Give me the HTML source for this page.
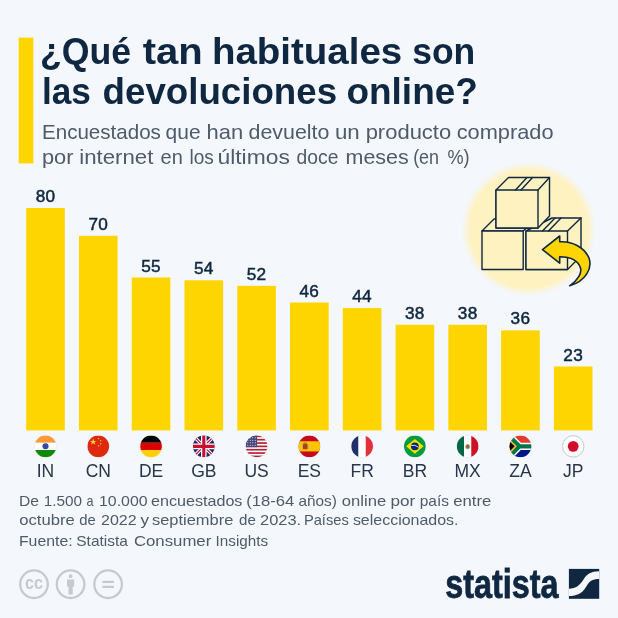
<!DOCTYPE html>
<html lang="es"><head><meta charset="utf-8"><title>¿Qué tan habituales son las devoluciones online?</title>
<style>
html,body{margin:0;padding:0;background:#f4f7fb;}
body{width:618px;height:618px;overflow:hidden;}
svg{display:block;}
text{font-family:"Liberation Sans",sans-serif;}
.t{font-weight:700;font-size:36px;fill:#0f2741;}
.s{font-size:21px;fill:#4d5b6b;}
.v{font-size:17.2px;fill:#0f2741;stroke:#0f2741;stroke-width:.5px;text-anchor:middle;letter-spacing:.3px;}
.c{font-size:17.5px;fill:#27364a;text-anchor:middle;}
.f{font-size:15px;fill:#4d5b6b;}
</style></head><body>
<svg width="618" height="618" viewBox="0 0 618 618">
<defs><radialGradient id="cg"><stop offset="0" stop-color="#fef2c0"/><stop offset=".87" stop-color="#fef2c0"/><stop offset="1" stop-color="#fef2c0" stop-opacity="0"/></radialGradient><clipPath id="fc"><circle cx="10.5" cy="10.5" r="10.5"/></clipPath></defs>
<rect width="618" height="618" fill="#f4f7fb"/>
<rect x="18.7" y="37.6" width="14.6" height="125.8" fill="#ffd500"/>
<text class="t" y="63.6"><tspan x="39.92" textLength="91.30" lengthAdjust="spacingAndGlyphs">¿Qué</tspan> <tspan x="142.80" textLength="60.01" lengthAdjust="spacingAndGlyphs">tan</tspan> <tspan x="211.96" textLength="190.33" lengthAdjust="spacingAndGlyphs">habituales</tspan> <tspan x="412.21" textLength="63.05" lengthAdjust="spacingAndGlyphs">son</tspan></text>
<text class="t" y="103.9"><tspan x="41.94" textLength="48.96" lengthAdjust="spacingAndGlyphs">las</tspan> <tspan x="102.58" textLength="234.46" lengthAdjust="spacingAndGlyphs">devoluciones</tspan> <tspan x="346.47" textLength="131.37" lengthAdjust="spacingAndGlyphs">online?</tspan></text>
<text class="s" y="138.9"><tspan x="41.97" textLength="118.92" lengthAdjust="spacingAndGlyphs">Encuestados</tspan> <tspan x="165.60" textLength="34.98" lengthAdjust="spacingAndGlyphs">que</tspan> <tspan x="206.55" textLength="36.66" lengthAdjust="spacingAndGlyphs">han</tspan> <tspan x="248.50" textLength="80.89" lengthAdjust="spacingAndGlyphs">devuelto</tspan> <tspan x="334.94" textLength="24.78" lengthAdjust="spacingAndGlyphs">un</tspan> <tspan x="365.65" textLength="85.56" lengthAdjust="spacingAndGlyphs">producto</tspan> <tspan x="456.70" textLength="96.90" lengthAdjust="spacingAndGlyphs">comprado</tspan></text>
<text class="s" y="164.3"><tspan x="41.96" textLength="31.53" lengthAdjust="spacingAndGlyphs">por</tspan> <tspan x="79.24" textLength="74.18" lengthAdjust="spacingAndGlyphs">internet</tspan> <tspan x="160.60" textLength="22.25" lengthAdjust="spacingAndGlyphs">en</tspan> <tspan x="189.49" textLength="24.36" lengthAdjust="spacingAndGlyphs">los</tspan> <tspan x="217.51" textLength="72.33" lengthAdjust="spacingAndGlyphs">últimos</tspan> <tspan x="296.60" textLength="41.82" lengthAdjust="spacingAndGlyphs">doce</tspan> <tspan x="345.58" textLength="63.13" lengthAdjust="spacingAndGlyphs">meses</tspan> <tspan x="413.15" textLength="25.93" lengthAdjust="spacingAndGlyphs">(en</tspan> <tspan x="447.50" textLength="22.16" lengthAdjust="spacingAndGlyphs">%)</tspan></text>
<g id="icon">
<circle cx="528.7" cy="229" r="67" fill="url(#cg)"/>
<g fill="#fef2c0" stroke="#0f2741" stroke-width="1.4" stroke-linejoin="round" stroke-linecap="round">
<path d="M482,231 L494,219 H536 L523.2,231 Z"/>
<rect x="482" y="231" width="41.2" height="38.5"/>
<path d="M526,231 L552,218 H581 V256 L567.5,269.5 H526 Z"/>
<rect x="526" y="231" width="41.5" height="38.500"/>
<path d="M567.5,231 L581,218"/>
<path d="M496,190 L508.500,177.500 H549.5 V216 L538,228 H496 Z"/>
<rect x="496" y="190" width="42" height="38"/>
<path d="M538,190 L549.5,177.500"/>
<path d="M515.5,190 L527,177.500 M521,190 L532.5,177.500"/>
<path d="M542.5,231 L555,218 M548.5,231 L561,218"/>
</g>
<path d="M542.5,249.6 L559.7,236 V241.8 C572,241 584,247 589,258 C592.5,268 586,281 569.7,285.8 C578,280 582,273 580.5,268 C578,260 570,256.7 559.7,256.7 V263.2 Z" fill="#ffd500" stroke="#0f2741" stroke-width="1.6" stroke-linejoin="round"/>
</g>
<rect x="26.20" y="208.00" width="38.6" height="222.40" fill="#ffd500"/><text class="v" x="45.50" y="202.10">80</text><g transform="translate(34.63,435.5) scale(1.035)"><circle cx="10.5" cy="10.5" r="11.200" fill="#eceff4"/><g clip-path="url(#fc)"><rect width="21" height="7" fill="#f93"/><rect y="7" width="21" height="7" fill="#fff"/><rect y="14" width="21" height="7" fill="#128807"/><circle cx="10.5" cy="10.5" r="2.900" fill="#2b3a9a"/><circle cx="10.5" cy="10.5" r="1.700" fill="none" stroke="#5d6bbd" stroke-width=".6"/></g></g><text class="c" x="45.50" y="476.5">IN</text><rect x="78.97" y="235.80" width="38.6" height="194.60" fill="#ffd500"/><text class="v" x="98.27" y="229.90">70</text><g transform="translate(87.40,435.5) scale(1.035)"><circle cx="10.5" cy="10.5" r="11.200" fill="#eceff4"/><g clip-path="url(#fc)"><rect width="21" height="21" fill="#de2910"/><polygon points="5.6,3 6.4,5.2 8.700,5.2 6.900,6.600 7.600,8.800 5.6,7.500 3.600,8.800 4.300,6.600 2.500,5.2 4.800,5.2" fill="#f8d030"/><circle cx="10.8" cy="3" r=".75" fill="#f2b830"/><circle cx="12.800" cy="5" r=".75" fill="#f2b830"/><circle cx="12.800" cy="7.900" r=".75" fill="#f2b830"/><circle cx="10.8" cy="9.900" r=".75" fill="#f2b830"/></g></g><text class="c" x="98.27" y="476.5">CN</text><rect x="131.74" y="277.50" width="38.6" height="152.90" fill="#ffd500"/><text class="v" x="151.04" y="271.60">55</text><g transform="translate(140.17,435.5) scale(1.035)"><circle cx="10.5" cy="10.5" r="11.200" fill="#eceff4"/><g clip-path="url(#fc)"><rect width="21" height="7" fill="#000"/><rect y="7" width="21" height="7" fill="#d00"/><rect y="14" width="21" height="7" fill="#ffce00"/></g></g><text class="c" x="151.04" y="476.5">DE</text><rect x="184.51" y="280.28" width="38.6" height="150.12" fill="#ffd500"/><text class="v" x="203.81" y="274.38">54</text><g transform="translate(192.94,435.5) scale(1.035)"><circle cx="10.5" cy="10.5" r="11.200" fill="#eceff4"/><g clip-path="url(#fc)"><rect width="21" height="21" fill="#1b2763"/><path d="M0,0L21,21M21,0L0,21" stroke="#fff" stroke-width="3.2"/><path d="M0,0L21,21M21,0L0,21" stroke="#c8102e" stroke-width="1.100"/><path d="M10.5,0V21M0,10.5H21" stroke="#fff" stroke-width="5.4"/><path d="M10.5,0V21M0,10.5H21" stroke="#c8102e" stroke-width="3"/></g></g><text class="c" x="203.81" y="476.5">GB</text><rect x="237.28" y="285.84" width="38.6" height="144.56" fill="#ffd500"/><text class="v" x="256.58" y="279.94">52</text><g transform="translate(245.71,435.5) scale(1.035)"><circle cx="10.5" cy="10.5" r="11.200" fill="#eceff4"/><g clip-path="url(#fc)"><rect width="21" height="21" fill="#fff"/><rect y="0.00" width="21" height="1.62" fill="#b22234"/><rect y="3.23" width="21" height="1.62" fill="#b22234"/><rect y="6.46" width="21" height="1.62" fill="#b22234"/><rect y="9.69" width="21" height="1.62" fill="#b22234"/><rect y="12.92" width="21" height="1.62" fill="#b22234"/><rect y="16.15" width="21" height="1.62" fill="#b22234"/><rect y="19.38" width="21" height="1.62" fill="#b22234"/><rect width="11" height="11.3" fill="#46467f"/><circle cx="2.0" cy="2.2" r=".5" fill="#fff"/><circle cx="4.4" cy="2.2" r=".5" fill="#fff"/><circle cx="6.8" cy="2.2" r=".5" fill="#fff"/><circle cx="9.2" cy="2.2" r=".5" fill="#fff"/><circle cx="2.0" cy="4.6" r=".5" fill="#fff"/><circle cx="4.4" cy="4.6" r=".5" fill="#fff"/><circle cx="6.8" cy="4.6" r=".5" fill="#fff"/><circle cx="9.2" cy="4.6" r=".5" fill="#fff"/><circle cx="2.0" cy="7.0" r=".5" fill="#fff"/><circle cx="4.4" cy="7.0" r=".5" fill="#fff"/><circle cx="6.8" cy="7.0" r=".5" fill="#fff"/><circle cx="9.2" cy="7.0" r=".5" fill="#fff"/><circle cx="2.0" cy="9.4" r=".5" fill="#fff"/><circle cx="4.4" cy="9.4" r=".5" fill="#fff"/><circle cx="6.8" cy="9.4" r=".5" fill="#fff"/><circle cx="9.2" cy="9.4" r=".5" fill="#fff"/></g></g><text class="c" x="256.58" y="476.5">US</text><rect x="290.05" y="302.52" width="38.6" height="127.88" fill="#ffd500"/><text class="v" x="309.35" y="296.62">46</text><g transform="translate(298.48,435.5) scale(1.035)"><circle cx="10.5" cy="10.5" r="11.200" fill="#eceff4"/><g clip-path="url(#fc)"><rect width="21" height="21" fill="#c60b1e"/><rect y="5.6" width="21" height="9.8" fill="#ffc400"/><rect x="4.300" y="8" width="4.600" height="5.4" rx="1.200" fill="#a5421c"/><rect x="4.900" y="6.700" width="3.400" height="1.600" fill="#b8860b"/><rect x="3.300" y="8.300" width=".9" height="4.800" fill="#b9b39a"/><rect x="9" y="8.300" width=".9" height="4.800" fill="#b9b39a"/></g></g><text class="c" x="309.35" y="476.5">ES</text><rect x="342.82" y="308.08" width="38.6" height="122.32" fill="#ffd500"/><text class="v" x="362.12" y="302.18">44</text><g transform="translate(351.25,435.5) scale(1.035)"><circle cx="10.5" cy="10.5" r="11.200" fill="#eceff4"/><g clip-path="url(#fc)"><rect width="7" height="21" fill="#22306a"/><rect x="7" width="7" height="21" fill="#fff"/><rect x="14" width="7" height="21" fill="#e2303d"/></g></g><text class="c" x="362.12" y="476.5">FR</text><rect x="395.59" y="324.76" width="38.6" height="105.64" fill="#ffd500"/><text class="v" x="414.89" y="318.86">38</text><g transform="translate(404.02,435.5) scale(1.035)"><circle cx="10.5" cy="10.5" r="11.200" fill="#eceff4"/><g clip-path="url(#fc)"><rect width="21" height="21" fill="#009b3a"/><polygon points="10.5,3.3 19,10.5 10.5,17.7 2,10.5" fill="#fedf00"/><circle cx="10.5" cy="10.5" r="3.8" fill="#002776"/><path d="M6.9,9.6 Q10.5,8.6 14.2,11.4" stroke="#fff" stroke-width=".8" fill="none"/></g></g><text class="c" x="414.89" y="476.5">BR</text><rect x="448.36" y="324.76" width="38.6" height="105.64" fill="#ffd500"/><text class="v" x="467.66" y="318.86">38</text><g transform="translate(456.79,435.5) scale(1.035)"><circle cx="10.5" cy="10.5" r="11.200" fill="#eceff4"/><g clip-path="url(#fc)"><rect width="7" height="21" fill="#006847"/><rect x="7" width="7" height="21" fill="#fff"/><rect x="14" width="7" height="21" fill="#ce1126"/><circle cx="10.5" cy="10.5" r="2" fill="#8a6d3b"/><path d="M8.3,11.8 Q10.5,13.8 12.7,11.8" stroke="#5a8a3a" stroke-width=".8" fill="none"/></g></g><text class="c" x="467.66" y="476.5">MX</text><rect x="501.13" y="330.32" width="38.6" height="100.08" fill="#ffd500"/><text class="v" x="520.43" y="324.42">36</text><g transform="translate(509.56,435.5) scale(1.035)"><circle cx="10.5" cy="10.5" r="11.200" fill="#eceff4"/><g clip-path="url(#fc)"><rect width="21" height="10.5" fill="#e03c31"/><rect y="10.5" width="21" height="10.5" fill="#001489"/><path d="M-2,-1 L9.5,10.5 L-2,22 M9.5,10.5 H22" stroke="#fff" stroke-width="7" fill="none"/><path d="M-2,-1 L9.5,10.5 L-2,22 M9.5,10.5 H22" stroke="#007749" stroke-width="4.2" fill="none"/><polygon points="-1,2.5 7,10.5 -1,18.5" fill="#ffb81c"/><polygon points="-1,4.6 4.9,10.5 -1,16.4" fill="#000"/></g></g><text class="c" x="520.43" y="476.5">ZA</text><rect x="553.90" y="366.46" width="38.6" height="63.94" fill="#ffd500"/><text class="v" x="573.20" y="360.56">23</text><g transform="translate(562.33,435.5) scale(1.035)"><circle cx="10.5" cy="10.5" r="11.200" fill="#eceff4"/><g clip-path="url(#fc)"><rect width="21" height="21" fill="#fff"/><circle cx="10.5" cy="10.5" r="5.2" fill="#d30c2b"/></g><circle cx="10.5" cy="10.5" r="10.3" fill="none" stroke="#bcc2cb" stroke-width=".8"/></g><text class="c" x="573.20" y="476.5">JP</text><text class="f" y="505.8"><tspan x="18.96" textLength="20.00" lengthAdjust="spacingAndGlyphs">De</tspan> <tspan x="43.68" textLength="38.37" lengthAdjust="spacingAndGlyphs">1.500</tspan> <tspan x="86.40" textLength="7.04" lengthAdjust="spacingAndGlyphs">a</tspan> <tspan x="99.04" textLength="48.62" lengthAdjust="spacingAndGlyphs">10.000</tspan> <tspan x="151.00" textLength="91.44" lengthAdjust="spacingAndGlyphs">encuestados</tspan> <tspan x="246.20" textLength="48.08" lengthAdjust="spacingAndGlyphs">(18-64</tspan> <tspan x="298.50" textLength="38.40" lengthAdjust="spacingAndGlyphs">años)</tspan> <tspan x="341.80" textLength="44.38" lengthAdjust="spacingAndGlyphs">online</tspan> <tspan x="390.50" textLength="24.79" lengthAdjust="spacingAndGlyphs">por</tspan> <tspan x="419.70" textLength="29.22" lengthAdjust="spacingAndGlyphs">país</tspan> <tspan x="453.30" textLength="38.08" lengthAdjust="spacingAndGlyphs">entre</tspan></text>
<text class="f" y="524.6"><tspan x="19.20" textLength="55.58" lengthAdjust="spacingAndGlyphs">octubre</tspan> <tspan x="79.20" textLength="16.54" lengthAdjust="spacingAndGlyphs">de</tspan> <tspan x="101.00" textLength="35.67" lengthAdjust="spacingAndGlyphs">2022</tspan> <tspan x="140.40" textLength="8.53" lengthAdjust="spacingAndGlyphs">y</tspan> <tspan x="152.00" textLength="81.27" lengthAdjust="spacingAndGlyphs">septiembre</tspan> <tspan x="239.10" textLength="16.85" lengthAdjust="spacingAndGlyphs">de</tspan> <tspan x="260.00" textLength="41.08" lengthAdjust="spacingAndGlyphs">2023.</tspan> <tspan x="303.92" textLength="44.87" lengthAdjust="spacingAndGlyphs">Países</tspan> <tspan x="352.90" textLength="105.64" lengthAdjust="spacingAndGlyphs">seleccionados.</tspan></text>
<text class="f" y="545.8"><tspan x="18.94" textLength="53.69" lengthAdjust="spacingAndGlyphs">Fuente:</tspan> <tspan x="76.30" textLength="51.52" lengthAdjust="spacingAndGlyphs">Statista</tspan> <tspan x="133.90" textLength="77.39" lengthAdjust="spacingAndGlyphs">Consumer</tspan> <tspan x="215.58" textLength="52.52" lengthAdjust="spacingAndGlyphs">Insights</tspan></text>
<g fill="none" stroke="#c6cad0" stroke-width="2.3">
<circle cx="34" cy="584.2" r="13.8"/><circle cx="70.6" cy="584.2" r="13.8"/><circle cx="108.1" cy="584.2" r="13.8"/>
<path d="M102.4,581.8 H114 M102.4,586.900 H114" stroke-width="2.3"/>
</g>
<text x="25" y="589" textLength="18" lengthAdjust="spacingAndGlyphs" style="font-size:17.5px;font-weight:700;fill:#c6cad0">cc</text>
<g fill="#c6cad0"><circle cx="70.6" cy="576.2" r="1.900"/><path d="M67,579.6 h7.2 v7 h-1.500 v7.800 h-4.200 v-7.800 h-1.500 z"/></g>
<text x="445.2" y="597.6" textLength="113.3" lengthAdjust="spacingAndGlyphs" style="font-size:40px;font-weight:700;fill:#0f2741;stroke:#0f2741;stroke-width:.8px">statista</text>
<g><rect x="568.9" y="568.9" width="30.3" height="29.9" fill="#0f2741"/>
<path d="M568.9,588.7 C576,588.7 580,585 583.5,579.500 C587,574 591,571.3 599.2,571.3 L599.2,579 C592,579 589.5,581 586,587 C582,593.500 577,596 568.9,596 Z" fill="#f4f7fb"/></g>
</svg>
</body></html>
